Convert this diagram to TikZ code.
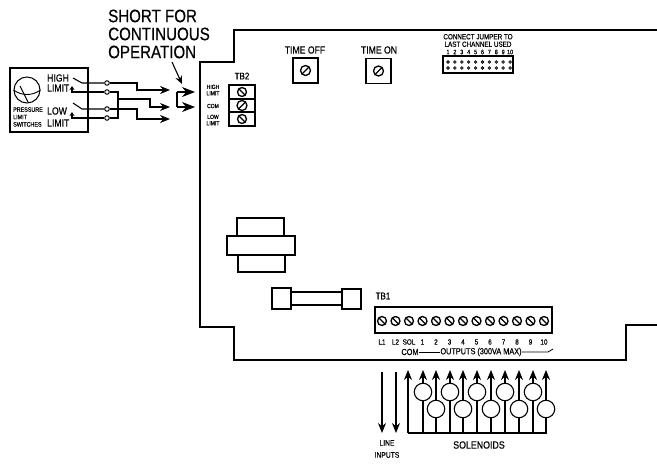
\documentclass[tikz,border=0pt]{standalone}
\usepackage{fontspec}
\setmainfont[FakeStretch=0.84,FakeBold=0.5]{Liberation Sans}
\usetikzlibrary{arrows.meta}
\tikzset{
	wire/.style={line width=1.1pt},
	board/.style={line width=1.5pt},
	part/.style={draw,line width=1.1pt,inner sep=0pt},
	dot/.style={circle,draw,fill=white,line width=1pt,minimum size=4.5pt,inner sep=0pt},
	screw/.style={circle,draw,line width=1.3pt,minimum size=9pt,inner sep=0pt,
		path picture={\draw[line width=1.3pt] (path picture bounding box.north west)--(path picture bounding box.south east);}},
	screwb/.style={circle,draw,line width=1.3pt,minimum size=10pt,inner sep=0pt,
		path picture={\draw[line width=1.3pt] (path picture bounding box.south west)--(path picture bounding box.north east);}},
	coil/.style={circle,draw,fill=white,line width=1.1pt,minimum size=17.5pt,inner sep=0pt},
	pin/.style={circle,draw,fill=black!70,minimum size=3pt,inner sep=0pt},
	big/.style={font=\fontsize{18}{18}\selectfont,inner sep=0pt,anchor=west},
	mid/.style={font=\fontsize{10.3}{10.3}\selectfont,inner sep=0pt},
	small/.style={font=\fontsize{8.7}{8.7}\selectfont,inner sep=0pt},
	tiny/.style={font=\fontsize{6}{6.4}\selectfont,inner sep=0pt,align=center},
	wirearrow/.style={wire,-{Stealth[length=10pt,width=8pt]}},
	bigarrow/.style={wire,-{Stealth[length=13pt,width=10pt]}},
}
\begin{document}
\begin{tikzpicture}[x=1pt,y=-1pt,>=stealth]
	\useasboundingbox (0,0) rectangle (657,466);
	% board outline
	\draw[board] (657,30)--(234,30)--(234,62)--(200,62)--(200,327)--(234,327)--(234,360)--(626,360)--(626,325)--(657,325);
	% switch box
	\node[part,minimum width=78pt,minimum height=64pt] (switchbox) at (49,100) {};
	\node[circle,draw,line width=1pt,minimum size=26pt,inner sep=0pt] (gauge) at (27,90) {};
	\draw[line width=0.9pt] (20,86)--(28,102);
	\draw[line width=0.9pt] (gauge.west) to[bend right=35] (gauge.east);
	\node[mid,anchor=west] (highlab) at (47,78) {HIGH};
	\node[mid,anchor=west] (limita) at (47,88) {LIMIT};
	\node[mid,anchor=west] (lowlab) at (47,111) {LOW};
	\node[mid,anchor=west] (limitb) at (47,123) {LIMIT};
	\node[tiny,anchor=west,align=left,font=\fontsize{6.4}{7.4}\selectfont] (pressure) at (13,117) {PRESSURE\\LIMIT\\SWITCHES};
	% wiring to the board
	\node[dot] (hia) at (107,83) {};
	\node[dot] (hib) at (107,92) {};
	\node[dot] (loa) at (107,109) {};
	\node[dot] (lob) at (107,118) {};
	\coordinate (hiblade) at (73,78);
	\coordinate (hipost) at (72,86);
	\coordinate (loblade) at (73,103);
	\coordinate (lopost) at (72,112);
	\coordinate (taila) at (170,90);
	\coordinate (tailb) at (170,107);
	\coordinate (tailc) at (170,119);
	\coordinate (tapb) at (118,92);
	\coordinate (tapd) at (118,118);
	\draw[wire] (hiblade)--(82,83)--(hia);
	\draw[wire,-{Stealth[length=4pt,width=5pt]}] (hib)--(72,92)--(hipost);
	\draw[wire] (loblade)--(82,109)--(loa);
	\draw[wire,-{Stealth[length=4pt,width=5pt]}] (lob)--(72,118)--(lopost);
	\draw[wirearrow] (hia)--(137,83)--(137,90)--(taila);
	\draw[wire] (hib)--(tapb)--(tapd)--(lob);
	\draw[wirearrow] (118,99)--(150,99)--(150,107)--(tailb);
	\draw[wirearrow] (loa)--(137,109)--(137,119)--(tailc);
	% short
	\node[big] (shorta) at (108,16) {SHORT FOR};
	\node[big] (shortb) at (108,34) {CONTINUOUS};
	\node[big] (shortc) at (108,52) {OPERATION};
	\coordinate (shortfrom) at (172,62);
	\coordinate (shortto) at (182,84);
	\coordinate (jumpa) at (177,92);
	\coordinate (jumpb) at (177,107);
	\coordinate (tipa) at (195,92);
	\coordinate (tipb) at (195,107);
	\draw[wire,-{Stealth[length=8pt,width=7pt]}] (shortfrom)--(shortto);
	\draw[bigarrow] (jumpa)--(tipa);
	\draw[bigarrow] (jumpb)--(tipb);
	\draw[wire] (jumpa)--(jumpb);
	% TB2
	\node[mid,font=\fontsize{9.5}{9.5}\selectfont] (tbtwo) at (242,76) {TB2};
	\node[part,minimum width=26pt,minimum height=14pt] (tbtwoa) at (242,92) {};
	\node[part,minimum width=26pt,minimum height=13pt] (tbtwob) at (242,105.5) {};
	\node[part,minimum width=26pt,minimum height=14pt] (tbtwoc) at (242,119) {};
	\node[screw] at (tbtwoa) {};
	\node[screwb] at (tbtwob) {};
	\node[screw] at (tbtwoc) {};
	\node[tiny] (tbhigh) at (213,90) {HIGH\\LIMIT};
	\node[tiny] (tbcom) at (213,106) {COM};
	\node[tiny] (tblow) at (213,120) {LOW\\LIMIT};
	% time pots
	\node[mid] (offlab) at (305,50) {TIME OFF};
	\node[mid] (onlab) at (379,50) {TIME ON};
	\node[part,minimum size=25pt] (offpot) at (305.5,70.5) {};
	\node[part,minimum size=25pt] (onpot) at (378.5,71) {};
	\node[screwb] at (offpot) {};
	\node[screwb] at (onpot) {};
	% channel jumper
	\node[tiny,font=\fontsize{7.5}{7.5}\selectfont] (chanlab) at (478,40.5) {CONNECT JUMPER TO\\LAST CHANNEL USED};
	\node[part,minimum width=70pt,minimum height=17pt] (pinbox) at (478,64.5) {};
	\foreach \i/\t in {0/1,1/2,2/3,3/4,4/5,5/6,6/7,7/8,8/9,9/10}{
		\node[tiny,font=\fontsize{6.4}{6.4}\selectfont] (chan\t) at (448+6.9*\i,52) {\t};
		\node[pin] (pina\t) at (448+6.9*\i,62) {};
		\node[pin] (pinb\t) at (448+6.9*\i,68) {};
	}
	% transformer
	\draw[part] (237,236)--(237,218)--(284,218)--(284,236);
	\draw[part] (238,255)--(238,272)--(285,272)--(285,255);
	\draw[part] (227,236) rectangle (295,255);
	% fuse
	\draw[part] (291,292) rectangle (342,305);
	\draw[part] (272,288) rectangle (291,309);
	\draw[part] (342,289) rectangle (361,309);
	\draw[line width=2.4pt] (272,309)--(272,288)--(291,288);
	\draw[line width=2.4pt] (342,289)--(361,289);
	% TB1
	\node[small,font=\fontsize{9.5}{9.5}\selectfont] (tbone) at (383,296) {TB1};
	\node[part,line width=1.3pt,minimum width=177pt,minimum height=26pt] (tboneframe) at (463.5,320) {};
	\foreach \i/\t in {0/L1,1/L2,2/SOL,3/1,4/2,5/3,6/4,7/5,8/6,9/7,10/8,11/9,12/10}{
		\node[screw] (term\t) at (382+13.5*\i,321) {};
		\node[small,font=\fontsize{7.5}{7.5}\selectfont] (lab\t) at (382+13.5*\i,342) {\t};
	}
	\node[small] (comlab) at (410,352) {COM};
	\node[small] (outlab) at (481,352) {OUTPUTS (300VA MAX)};
	\coordinate (outend) at (553,349);
	\draw[line width=0.8pt] (comlab.east)--(outlab.west);
	\draw[line width=0.8pt] (outlab.east)--(548,352)--(outend);
	% line inputs
	\coordinate (lina) at (382,372);
	\coordinate (linb) at (396,372);
	\coordinate (lowa) at (382,433);
	\coordinate (lowb) at (396,433);
	\draw[wirearrow] (lina)--(lowa);
	\draw[wirearrow] (linb)--(lowb);
	\node[small,align=center,font=\fontsize{8}{12}\selectfont] (linelab) at (387,449) {LINE\\INPUTS};
	% solenoids
	\coordinate (busl) at (408,433);
	\coordinate (busr) at (547,433);
	\draw[line width=1.3pt] (busl)--(busr);
	\coordinate (topsol) at (408,370);
	\draw[wirearrow] (busl)--(topsol);
	\foreach \x/\y [count=\n] in {423/392,436/409,450/392,463/409,477/392,491/409,505/392,519/409,533/392,546/409}{
		\coordinate (tip\n) at (\x,370);
		\coordinate (foot\n) at (\x,433);
		\draw[wirearrow] (foot\n)--(tip\n);
		\node[coil] (sol\n) at (\x,\y) {};
	}
	\node[small,font=\fontsize{10.5}{10.5}\selectfont] (sollab) at (479,445) {SOLENOIDS};
\end{tikzpicture}
\end{document}
